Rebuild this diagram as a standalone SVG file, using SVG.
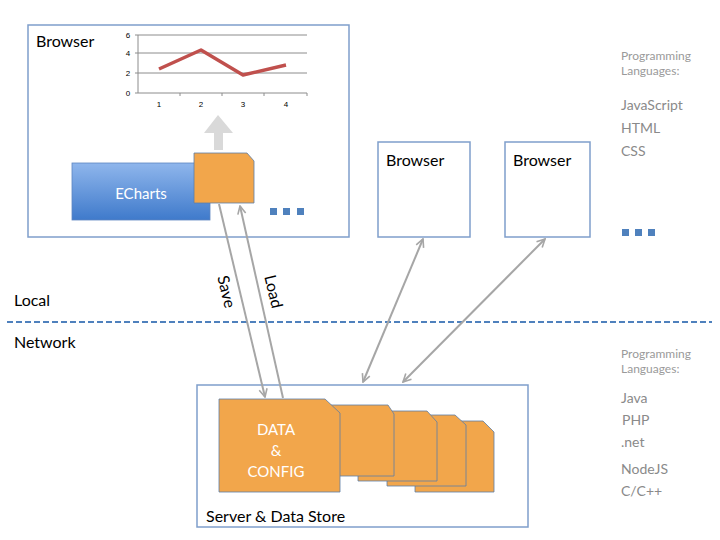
<svg xmlns="http://www.w3.org/2000/svg" width="720" height="540" viewBox="0 0 720 540">
<style>
  text { font-family: Lato, "Open Sans", "Liberation Sans", sans-serif; }
  .box { fill: #ffffff; stroke: #7f9ecb; stroke-width: 1.5; }
  .lbl { font-size: 16px; fill: #000000; }
  .doc { fill: #f2a64b; stroke: #5d7ea6; stroke-width: 0.8; }
  .wt { font-size: 15px; fill: #ffffff; text-anchor: middle; }
  .conn { stroke: #a6a6a6; stroke-width: 2; fill: none; }
  .pl { font-size: 12px; fill: #9a9a9a; }
  .lang { font-size: 14px; fill: #8a8a8a; }
  .grid { stroke: #8c8c8c; stroke-width: 1; }
  .tick { font-size: 8px; fill: #000; text-anchor: middle; font-family: "Liberation Sans", sans-serif; }
  .dot { fill: #4f81bd; }
</style>
<defs>
  <linearGradient id="blue" x1="0" y1="0" x2="0" y2="1">
    <stop offset="0" stop-color="#8fb6ec"/>
    <stop offset="1" stop-color="#3f7acb"/>
  </linearGradient>
  <marker id="ah" viewBox="0 0 10 10" refX="9" refY="5" markerWidth="5" markerHeight="5" orient="auto-start-reverse" markerUnits="strokeWidth">
    <path d="M1,1 L9,5 L1,9" fill="none" stroke="#a6a6a6" stroke-width="1.6"/>
  </marker>
</defs>

<g id="browser-main">
  <rect class="box" x="28" y="25" width="321" height="212"/>
  <text class="lbl" x="36" y="47">Browser</text>
  <g id="chart">
    <line class="grid" x1="138" y1="35" x2="307" y2="35"/>
    <line class="grid" x1="138" y1="53" x2="307" y2="53"/>
    <line class="grid" x1="138" y1="73" x2="307" y2="73"/>
    <line class="grid" x1="138" y1="93" x2="307" y2="93"/>
    <line class="grid" x1="138" y1="35" x2="138" y2="93"/>
    <line class="grid" x1="135" y1="35" x2="138" y2="35"/>
    <line class="grid" x1="135" y1="53" x2="138" y2="53"/>
    <line class="grid" x1="135" y1="73" x2="138" y2="73"/>
    <line class="grid" x1="135" y1="93" x2="138" y2="93"/>
    <line class="grid" x1="180" y1="93" x2="180" y2="96"/>
    <line class="grid" x1="222" y1="93" x2="222" y2="96"/>
    <line class="grid" x1="264" y1="93" x2="264" y2="96"/>
    <line class="grid" x1="307" y1="93" x2="307" y2="96"/>
    <text class="tick" x="128" y="38">6</text>
    <text class="tick" x="128" y="56">4</text>
    <text class="tick" x="128" y="76">2</text>
    <text class="tick" x="128" y="96">0</text>
    <text class="tick" x="159" y="107">1</text>
    <text class="tick" x="201" y="107">2</text>
    <text class="tick" x="243" y="107">3</text>
    <text class="tick" x="286" y="107">4</text>
    <polyline points="159,69 201,50 243,75 286,65" fill="none" stroke="#c0504d" stroke-width="3.5" stroke-linejoin="round"/>
  </g>
  <polygon points="218,115 233,133 223,133 223,150 214,150 214,133 204,133" fill="#d9d9d9"/>
  <g id="echarts">
    <rect x="72" y="163" width="138" height="57" fill="url(#blue)" stroke="#5d86c0" stroke-width="0.8"/>
    <text class="wt" x="141" y="199">ECharts</text>
  </g>
  <g id="doc-local">
    <path class="doc" d="M194,153 L247,153 L254,161 L254,203 L194,203 Z"/>
  </g>
  <rect class="dot" x="270" y="208" width="7" height="7"/>
  <rect class="dot" x="283" y="208" width="7" height="7"/>
  <rect class="dot" x="297" y="208" width="7" height="7"/>
</g>

<g id="browser-2">
  <rect class="box" x="378" y="142" width="92" height="95"/>
  <text class="lbl" x="386" y="166">Browser</text>
</g>
<g id="browser-3">
  <rect class="box" x="505" y="142" width="85" height="95"/>
  <text class="lbl" x="513" y="166">Browser</text>
</g>

<g id="more-dots">
  <rect class="dot" x="622" y="229" width="7" height="7"/>
  <rect class="dot" x="635" y="229" width="7" height="7"/>
  <rect class="dot" x="648" y="229" width="7" height="7"/>
</g>

<g id="client-langs">
  <text class="pl" x="621" y="60">Programming</text>
  <text class="pl" x="621" y="75">Languages:</text>
  <text class="lang" x="621" y="110">JavaScript</text>
  <text class="lang" x="621" y="133">HTML</text>
  <text class="lang" x="621" y="156">CSS</text>
</g>

<g id="divider">
  <line x1="7" y1="322" x2="712" y2="322" stroke="#4f81bd" stroke-width="2" stroke-dasharray="6,3"/>
  <text class="lbl" x="14" y="306">Local</text>
  <text class="lbl" x="14" y="348">Network</text>
</g>

<g id="server">
  <rect class="box" x="197" y="385" width="331" height="142"/>
  <text class="lbl" x="206" y="522">Server &amp; Data Store</text>
  <path class="doc" d="M415,421 L483,421 L494,432 L494,492 L415,492 Z"/>
  <path class="doc" d="M387,415 L455,415 L466,425 L466,486 L387,486 Z"/>
  <path class="doc" d="M358,411 L427,411 L437,422 L437,481 L358,481 Z"/>
  <path class="doc" d="M330,405 L388,405 L394,414 L394,476 L330,476 Z"/>
  <g id="doc-data-config">
    <path class="doc" d="M219,399 L325,399 L340,413 L340,492 L219,492 Z"/>
    <text class="wt" x="276" y="435">DATA</text>
    <text class="wt" x="276" y="456">&amp;</text>
    <text class="wt" x="276" y="477">CONFIG</text>
  </g>
</g>

<g id="server-langs">
  <text class="pl" x="621" y="358">Programming</text>
  <text class="pl" x="621" y="373">Languages:</text>
  <text class="lang" x="621" y="403">Java</text>
  <text class="lang" x="622" y="425">PHP</text>
  <text class="lang" x="621" y="447">.net</text>
  <text class="lang" x="621" y="474">NodeJS</text>
  <text class="lang" x="621" y="496">C/C++</text>
</g>

<g id="connectors">
  <line class="conn" x1="219" y1="204" x2="265" y2="397" marker-end="url(#ah)"/>
  <line class="conn" x1="283" y1="398" x2="240" y2="206" marker-end="url(#ah)"/>
  <line class="conn" x1="423" y1="239" x2="363" y2="382" marker-start="url(#ah)" marker-end="url(#ah)"/>
  <line class="conn" x1="545" y1="239" x2="403" y2="382" marker-start="url(#ah)" marker-end="url(#ah)"/>
  <text class="lbl" font-size="15" transform="translate(225,292) rotate(76.6)" text-anchor="middle" dominant-baseline="middle">Save</text>
  <text class="lbl" font-size="15" transform="translate(272,292) rotate(76.6)" text-anchor="middle" dominant-baseline="middle">Load</text>
</g>
</svg>
